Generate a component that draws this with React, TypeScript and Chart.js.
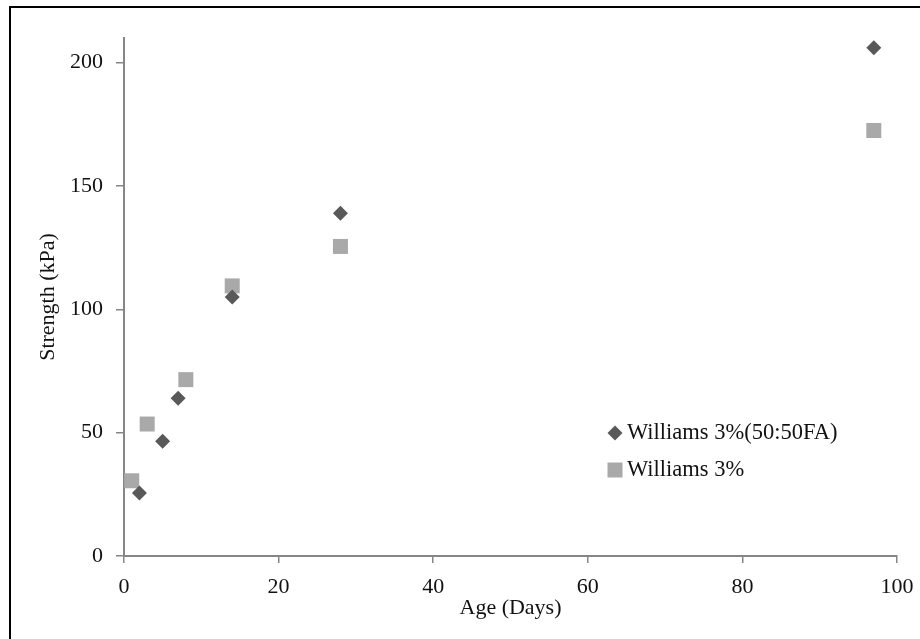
import React, { useEffect, useRef } from "react";
import { Chart, registerables } from "chart.js";

Chart.register(...registerables);

const seriesA_label = "Williams 3%(50:50FA)";
const seriesA_x = [2, 5, 7, 14, 28, 97];
const seriesA_y = [25.5, 46.5, 64, 105, 139, 206];

const seriesB_label = "Williams 3%";
const seriesB_x = [1, 3, 8, 14, 28, 97];
const seriesB_y = [30.5, 53.5, 71.5, 109.5, 125.5, 172.5];

const yTickValues = [0, 50, 100, 150, 200];
const xTickValues = [0, 20, 40, 60, 80, 100];

const xTitle = "Age (Days)";
const yTitle = "Strength (kPa)";

const FONT = "'Liberation Serif', 'Times New Roman', serif";
const COLOR_A = "#595959";
const COLOR_B = "#a9a9a9";
const AXIS = "#868686";

const legendPlugin = {
  id: "insideLegend",
  afterDraw(chart: any) {
    const ctx = chart.ctx;
    const area = chart.chartArea;
    const x0 = area.left + 491;
    const rows = [
      { label: seriesA_label, color: COLOR_A, style: "rectRot", r: 7.5, y: area.top + 395 },
      { label: seriesB_label, color: COLOR_B, style: "rect", r: 10.6, y: area.top + 432 },
    ];
    ctx.save();
    for (const row of rows) {
      ctx.fillStyle = row.color;
      ctx.beginPath();
      if (row.style === "rectRot") {
        ctx.moveTo(x0, row.y - row.r);
        ctx.lineTo(x0 + row.r, row.y);
        ctx.lineTo(x0, row.y + row.r);
        ctx.lineTo(x0 - row.r, row.y);
        ctx.closePath();
      } else {
        const s = row.r * Math.SQRT1_2;
        ctx.rect(x0 - s, row.y - s, 2 * s, 2 * s);
      }
      ctx.fill();
      ctx.fillStyle = "#111";
      ctx.font = `22.5px ${FONT}`;
      ctx.textBaseline = "middle";
      ctx.textAlign = "left";
      ctx.fillText(row.label, x0 + 12, row.y);
    }
    ctx.restore();
  },
};

export default function App() {
  const ref = useRef<HTMLCanvasElement>(null);
  useEffect(() => {
    if (!ref.current) return;
    const chart = new Chart(ref.current, {
      type: "scatter",
      data: {
        datasets: [
          {
            label: seriesA_label,
            data: seriesA_x.map((x, i) => ({ x, y: seriesA_y[i] })),
            pointStyle: "rectRot",
            pointRadius: 7.5,
            pointHoverRadius: 7.5,
            backgroundColor: COLOR_A,
            borderColor: COLOR_A,
            borderWidth: 0,
          },
          {
            label: seriesB_label,
            data: seriesB_x.map((x, i) => ({ x, y: seriesB_y[i] })),
            pointStyle: "rect",
            pointRadius: 10.6,
            pointHoverRadius: 10.6,
            backgroundColor: COLOR_B,
            borderColor: COLOR_B,
            borderWidth: 0,
          },
        ],
      },
      options: {
        animation: false,
        responsive: false,
        maintainAspectRatio: false,
        layout: { padding: { left: 0, right: 23, top: 38, bottom: 0 } },
        plugins: {
          legend: { display: false },
          tooltip: { enabled: false },
        },
        scales: {
          x: {
            type: "linear",
            min: 0,
            max: 100,
            ticks: {
              color: "#111",
              padding: 11,
              font: { family: FONT, size: 22 },
            },
            afterBuildTicks: (scale: any) => {
              scale.ticks = xTickValues.map((v) => ({ value: v }));
            },
            grid: {
              drawOnChartArea: false,
              drawTicks: true,
              tickLength: 7,
              color: AXIS,
              lineWidth: 1.5,
            },
            border: { display: true, color: AXIS, width: 2 },
            title: {
              display: true,
              text: xTitle,
              color: "#111",
              font: { family: FONT, size: 22 },
              padding: { top: 0, bottom: 18 },
            },
            afterFit: (scale: any) => {
              scale.height = 83;
              scale.paddingLeft = 0;
              scale.paddingRight = 0;
            },
          },
          y: {
            type: "linear",
            min: 0,
            max: 210,
            ticks: {
              color: "#111",
              padding: 13,
              font: { family: FONT, size: 22 },
            },
            afterBuildTicks: (scale: any) => {
              scale.ticks = yTickValues.map((v) => ({ value: v }));
            },
            grid: {
              drawOnChartArea: false,
              drawTicks: true,
              tickLength: 8,
              color: AXIS,
              lineWidth: 1.5,
            },
            border: { display: true, color: AXIS, width: 2 },
            title: {
              display: true,
              text: yTitle,
              color: "#111",
              font: { family: FONT, size: 22 },
              padding: { top: 35, bottom: 0 },
            },
            afterFit: (scale: any) => {
              scale.width = 124;
              scale.paddingTop = 0;
              scale.paddingBottom = 0;
            },
          },
        },
      },
      plugins: [legendPlugin],
    });
    return () => chart.destroy();
  }, []);

  return (
    <div
      style={{
        position: "fixed",
        left: 0,
        top: 0,
        width: 920,
        height: 639,
        overflow: "hidden",
        background: "#fff",
      }}
    >
      <div
        style={{
          position: "absolute",
          left: 9,
          top: 6,
          width: 940,
          height: 660,
          border: "2px solid #000",
        }}
      />
      <canvas
        ref={ref}
        width={920}
        height={639}
        style={{ position: "absolute", left: 0, top: 0, width: 920, height: 639 }}
      />
    </div>
  );
}
